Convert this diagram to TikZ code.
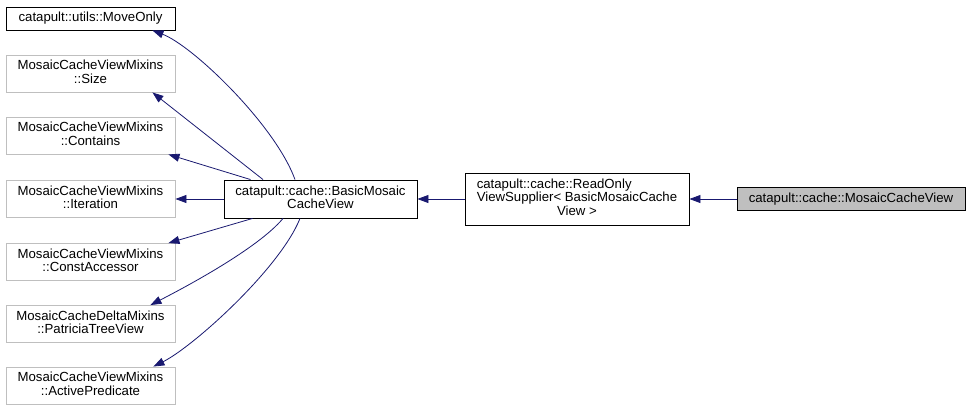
\documentclass[tikz,border=0pt]{standalone}
\usepackage{fontspec}
\setmainfont{Liberation Sans}
\usetikzlibrary{arrows.meta}
\definecolor{edgeblue}{HTML}{191970}
\definecolor{nodocgray}{HTML}{BFBFBF}
\newcommand{\twolines}[2]{\begin{tabular}{@{}c@{}}#1\\#2\end{tabular}}
\tikzset{every node/.style={rectangle, inner sep=0pt, align=center, font=\fontsize{13.2}{13.2}\selectfont}}
\tikzset{doc/.style={draw=black, line width=0.9pt}}
\tikzset{nodoc/.style={draw=nodocgray, line width=0.9pt}}
\tikzset{current/.style={draw=black, fill=nodocgray, line width=0.9pt}}
\tikzset{side/.style={minimum width=169pt, minimum height=37pt}}
\tikzset{inherit/.style={draw=edgeblue, line width=0.8pt, -{Triangle[length=11pt,width=8pt]}}}

\begin{document}
\begin{tikzpicture}[x=1pt,y=-1pt]
\useasboundingbox (0,0) rectangle (971,412);
% base classes
\node[doc,side,minimum height=23pt] (moveonly) at (90.5,18.5) {catapult::utils::MoveOnly};
\node[nodoc,side] (size) at (90.5,73.5) {\twolines{MosaicCacheViewMixins}{::Size}};
\node[nodoc,side] (contains) at (90.5,135.5) {\twolines{MosaicCacheViewMixins}{::Contains}};
\node[nodoc,side] (iteration) at (90.5,199) {\twolines{MosaicCacheViewMixins}{::Iteration}};
\node[nodoc,side] (constaccessor) at (90.5,262) {\twolines{MosaicCacheViewMixins}{::ConstAccessor}};
\node[nodoc,side] (patriciatree) at (90.5,324) {\twolines{MosaicCacheDeltaMixins}{::PatriciaTreeView}};
\node[nodoc,side] (activepredicate) at (90.5,385.5) {\twolines{MosaicCacheViewMixins}{::ActivePredicate}};
% derived chain
\node[doc,minimum width=193pt,minimum height=38pt] (basicview) at (320.5,199) {\twolines{catapult::cache::BasicMosaic}{CacheView}};
\node[doc,minimum width=224pt,minimum height=52pt] (supplier) at (577,199) {\begin{tabular}{@{}l@{}}catapult::cache::ReadOnly\\ViewSupplier< BasicMosaicCache\\\multicolumn{1}{@{}c@{}}{View >}\end{tabular}};
\node[current,minimum width=228pt,minimum height=23pt] (mosaicview) at (851,199) {catapult::cache::MosaicCacheView};

% inheritance
\draw[inherit] (mosaicview) -- (supplier);
\draw[inherit] (supplier) -- (basicview);
\draw[inherit] ([xshift=-25.5pt]basicview.north) .. controls +(-20,-55) and +(40,15) .. ([xshift=-23pt]moveonly.south east);
\draw[inherit] ([xshift=-57.5pt]basicview.north) -- ([xshift=-23pt]size.south east);
\draw[inherit] ([xshift=-70pt]basicview.north) -- ([xshift=-7pt]contains.south east);
\draw[inherit] (basicview) -- (iteration);
\draw[inherit] ([xshift=-68pt]basicview.south) -- ([xshift=-7pt]constaccessor.north east);
\draw[inherit] ([xshift=-37.5pt]basicview.south) .. controls +(-25,30) and +(35,-18) .. ([xshift=-25pt]patriciatree.north east);
\draw[inherit] ([xshift=-20.5pt]basicview.south) .. controls +(-20,50) and +(40,-20) .. ([xshift=-22pt]activepredicate.north east);
\end{tikzpicture}
\end{document}
